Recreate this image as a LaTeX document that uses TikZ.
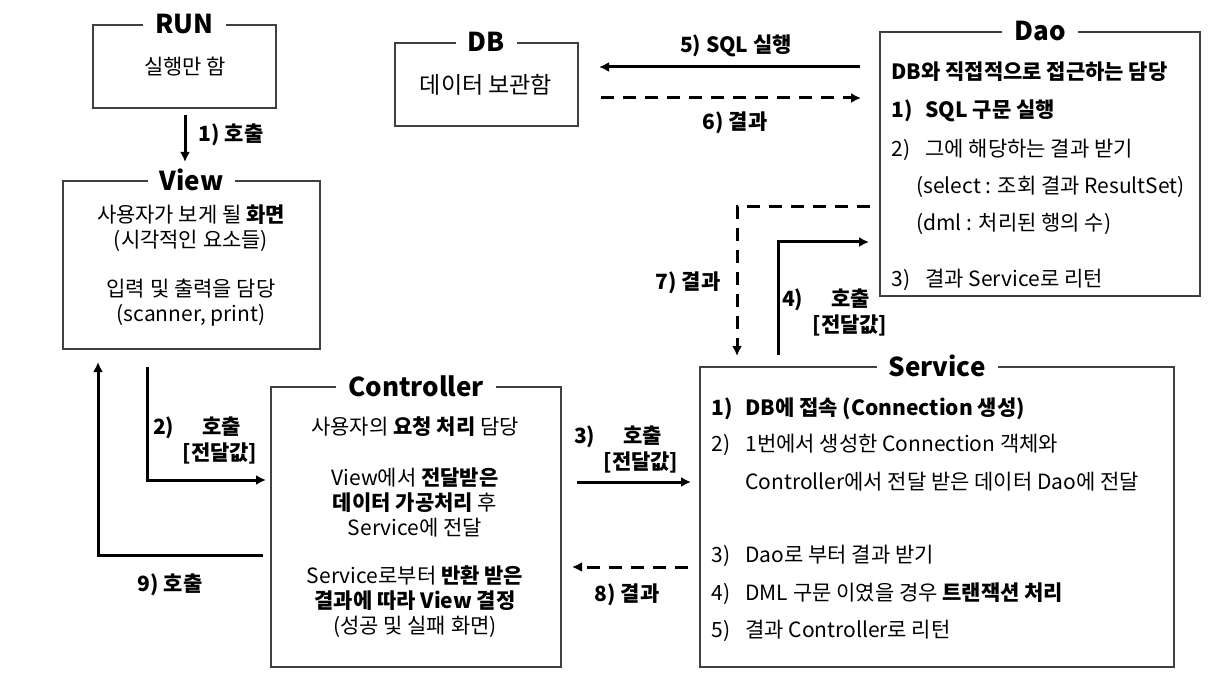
\documentclass[tikz,border=0pt]{standalone}
\usepackage{fontspec}
\setmainfont{Noto Sans CJK KR}
\usetikzlibrary{arrows.meta}

\newcommand{\numbox}[1]{\makebox[17pt][l]{#1}}

\tikzset{
  box/.style={draw=black!75, line width=0.8pt, rectangle},
  boxtitle/.style={fill=white, font=\bfseries\fontsize{13}{15}\selectfont, inner xsep=6pt, inner ysep=1pt},
  txt/.style={font=\fontsize{10.5}{12.5}\selectfont, inner sep=0pt, align=center},
  lbl/.style={font=\bfseries\fontsize{10.5}{12.5}\selectfont, inner sep=0pt},
  flow/.style={line width=1.5pt, -{Latex[length=5pt,width=5pt]}},
  back/.style={flow, dash pattern=on 6.5pt off 4.5pt},
}

\begin{document}
\begin{tikzpicture}[x=0.5pt, y=-0.5pt]
  \useasboundingbox (0,0) rectangle (1229,689);

  % RUN
  \node (run) [box, minimum width=91.5pt, minimum height=41.5pt] at (184.5, 66.5) {};
  \node (runtitle) [boxtitle] at (run.north) {RUN};
  \node (runtxt) [txt] at (185, 67) {실행만 함};

  % DB
  \node (db) [box, minimum width=91.5pt, minimum height=41.5pt] at (486.5, 84.5) {};
  \node (dbtitle) [boxtitle] at (db.north) {DB};
  \node (dbtxt) [txt, font=\fontsize{11.5}{13}\selectfont] at (486, 85) {데이터 보관함};

  % View
  \node (view) [box, minimum width=128.5pt, minimum height=84pt] at (191.5, 265) {};
  \node (viewtitle) [boxtitle] at (view.north) {View};
  \node (viewtxta) [txt] at (191, 228) {사용자가 보게 될 \textbf{화면}\\(시각적인 요소들)};
  \node (viewtxtb) [txt] at (191, 303) {입력 및 출력을 담당\\(scanner, print)};

  % Controller
  \node (ctrl) [box, minimum width=145pt, minimum height=140pt] at (416, 527) {};
  \node (ctrltitle) [boxtitle] at (ctrl.north) {Controller};
  \node (ctrltxta) [txt] at (415, 427) {사용자의 \textbf{요청 처리} 담당};
  \node (ctrltxtb) [txt] at (415, 502) {View에서 \textbf{전달받은}\\\textbf{데이터 가공처리} 후\\Service에 전달};
  \node (ctrltxtc) [txt] at (415, 602) {Service로부터 \textbf{반환 받은}\\\textbf{결과에 따라 View 결정}\\(성공 및 실패 화면)};

  % Dao
  \node (dao) [box, minimum width=160pt, minimum height=132pt] at (1040, 164) {};
  \node (daotitle) [boxtitle] at (dao.north) {Dao};
  \node (daoa) [txt, anchor=west] at (891, 72) {\textbf{DB와 직접적으로 접근하는 담당}};
  \node (daob) [txt, anchor=west] at (891, 111) {\textbf{\numbox{1)}SQL 구문 실행}};
  \node (daoc) [txt, anchor=west] at (891, 150) {\numbox{2)}그에 해당하는 결과 받기};
  \node (daod) [txt, anchor=west] at (916, 187) {(select : 조회 결과 ResultSet)};
  \node (daoe) [txt, anchor=west] at (916, 224) {(dml : 처리된 행의 수)};
  \node (daof) [txt, anchor=west] at (891, 280) {\numbox{3)}결과 Service로 리턴};

  % Service
  \node (svc) [box, minimum width=237pt, minimum height=150pt] at (937, 517) {};
  \node (svctitle) [boxtitle] at (svc.north) {Service};
  \node (svca) [txt, anchor=west] at (711, 409) {\textbf{\numbox{1)}DB에 접속 (Connection 생성)}};
  \node (svcb) [txt, anchor=west] at (711, 445) {\numbox{2)}1번에서 생성한 Connection 객체와};
  \node (svcc) [txt, anchor=west] at (745, 482) {Controller에서 전달 받은 데이터 Dao에 전달};
  \node (svcd) [txt, anchor=west] at (711, 556) {\numbox{3)}Dao로 부터 결과 받기};
  \node (svce) [txt, anchor=west] at (711, 594) {\numbox{4)}DML 구문 이였을 경우 \textbf{트랜잭션 처리}};
  \node (svcf) [txt, anchor=west] at (711, 631) {\numbox{5)}결과 Controller로 리턴};

  % connector ends
  \coordinate (a1s) at (185, 115);  \coordinate (a1e) at (185, 162);
  \coordinate (a2s) at (147, 367);  \coordinate (a2e) at (266, 480);
  \coordinate (a3s) at (577, 482);  \coordinate (a3e) at (691, 482);
  \coordinate (a4s) at (778, 355);  \coordinate (a4e) at (869, 242);
  \coordinate (a5s) at (860, 67);   \coordinate (a5e) at (599, 67);
  \coordinate (a6s) at (601, 98);   \coordinate (a6e) at (861, 98);
  \coordinate (a7s) at (870, 207);  \coordinate (a7e) at (737, 356);
  \coordinate (a8s) at (688, 567);  \coordinate (a8e) at (572, 567);
  \coordinate (a9s) at (263, 555);  \coordinate (a9e) at (98, 362);

  \draw [flow] (a1s) -- (a1e);
  \draw [flow] (a2s) |- (a2e);
  \draw [flow] (a3s) -- (a3e);
  \draw [flow] (a4s) |- (a4e);
  \draw [flow] (a5s) -- (a5e);
  \draw [back] (a6s) -- (a6e);
  \draw [back] (a7s) -| (a7e);
  \draw [back] (a8s) -- (a8e);
  \draw [flow] (a9s) -| (a9e);

  % labels
  \node (l1) [lbl] at (231, 135) {1) 호출};
  \node (l2a) [lbl] at (197, 428) {2)\hspace{14pt}호출};
  \node (l2b) [lbl] at (220, 453) {[전달값]};
  \node (l3a) [lbl] at (618, 437) {3)\hspace{14pt}호출};
  \node (l3b) [lbl] at (641, 462) {[전달값]};
  \node (l4a) [lbl] at (826, 300) {4)\hspace{14pt}호출};
  \node (l4b) [lbl] at (850, 325) {[전달값]};
  \node (l5) [lbl] at (736, 46) {5) SQL 실행};
  \node (l6) [lbl] at (735, 123) {6) 결과};
  \node (l7) [lbl] at (688, 283) {7) 결과};
  \node (l8) [lbl] at (627, 595) {8) 결과};
  \node (l9) [lbl] at (170, 585) {9) 호출};
\end{tikzpicture}
\end{document}
